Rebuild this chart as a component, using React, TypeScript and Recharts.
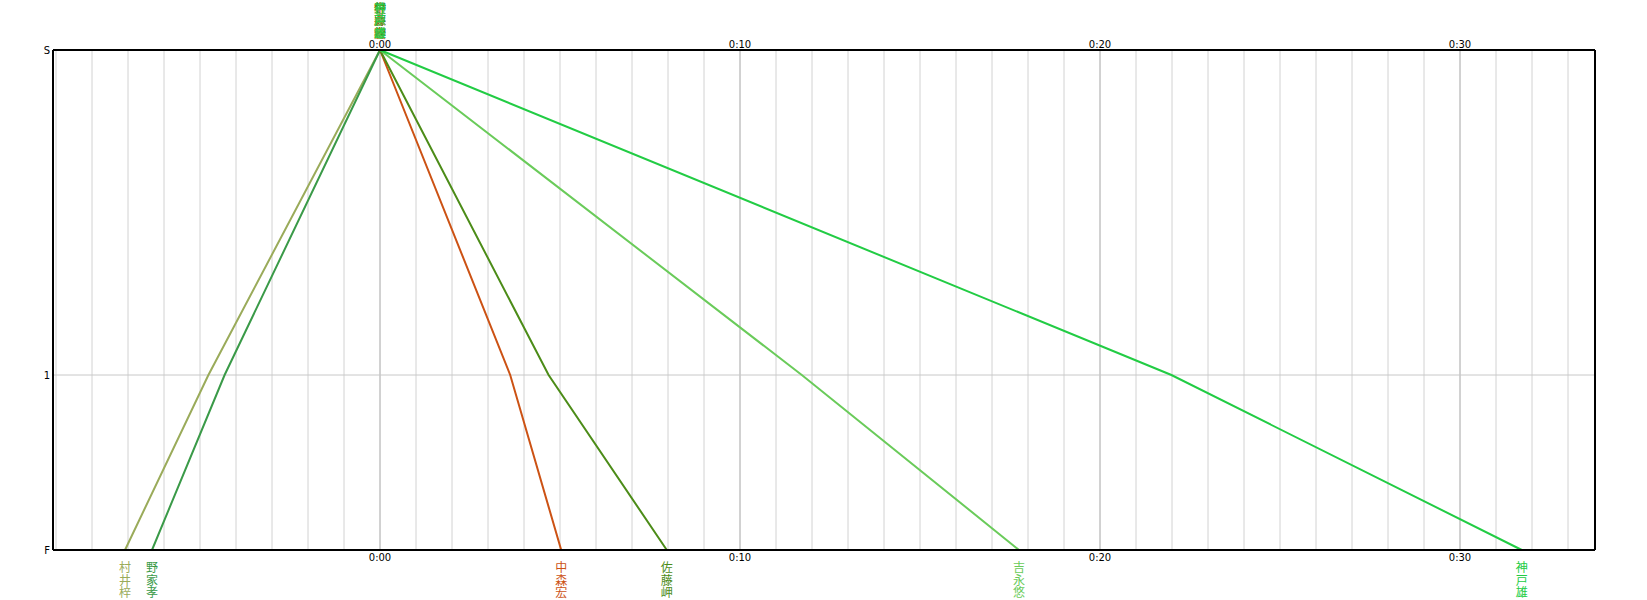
import React from 'react';
import { LineChart, Line, XAxis, YAxis, ReferenceLine } from 'recharts';

// runners in this section, colours as drawn
const runners = ['村井梓', '野家孝', '中森宏', '佐藤岬', '吉永悠', '神戸雄'];
const colors = ['#9aab5a', '#3a9a48', '#cc5214', '#4c8c18', '#6acb5a', '#22cc44'];

// times in seconds relative to 0:00 at S, split 1 and F
const startTimes = [0, 0, 0, 0, 0, 0];
const split1Times = [-286, -259, 217, 281, 703, 1319];
const finishTimes = [-425, -380, 302, 478, 1065, 1903];

// distance positions (S = 0, F = 1)
const distTicks = [0, 0.65, 1];
const distLabels = ['S', '1', 'F'];

const timeTicks = [0, 600, 1200, 1800];
const timeDomain = [-545, 2025];
const minuteLines = Array.from({ length: 43 }, (_, i) => (i - 9) * 60);

const fmtTime = (s: number) => {
  const m = Math.round(s / 60);
  return `${Math.floor(m / 60)}:${String(m % 60).padStart(2, '0')}`;
};
const fmtDist = (d: number) => distLabels[distTicks.indexOf(d)] ?? '';

const series = runners.map((name, i) => ({
  name,
  color: colors[i],
  data: [
    { t: startTimes[i], d: distTicks[0] },
    { t: split1Times[i], d: distTicks[1] },
    { t: finishTimes[i], d: distTicks[2] },
  ],
}));

const tickStyle = { fontSize: 10, fill: '#000', fontFamily: 'DejaVu Sans' };

// vertical runner name at start (top) and finish (bottom)
const makeLabel = (name: string, color: string, last: number) => (props: any) => {
  const { x, y, index } = props;
  if (index !== 0 && index !== last) return null;
  const top = index === 0 ? y - 48 : y + 11.5;
  return (
    <text
      x={x}
      y={top}
      fontSize={12}
      fontFamily="Noto Sans CJK JP"
      fill={color}
      letterSpacing={0.5}
      style={{ writingMode: 'vertical-rl' }}
    >
      {name}
    </text>
  );
};

export default function App() {
  return (
    <div style={{ width: 1647, height: 600 }}>
      <style>{'body{margin:0}'}</style>
      <LineChart width={1647} height={600} margin={{ top: 0, right: 0, bottom: 0, left: 0 }}>
        <XAxis
          xAxisId="bottom"
          dataKey="t"
          type="number"
          domain={timeDomain}
          allowDataOverflow
          ticks={timeTicks}
          tickFormatter={fmtTime}
          height={50}
          tickSize={0}
          tickMargin={4}
          tick={tickStyle}
          axisLine={{ stroke: '#000', strokeWidth: 2 }}
        />
        <XAxis
          xAxisId="top"
          orientation="top"
          dataKey="t"
          type="number"
          domain={timeDomain}
          allowDataOverflow
          ticks={timeTicks}
          tickFormatter={fmtTime}
          height={50}
          tickSize={0}
          tickMargin={2}
          tick={tickStyle}
          axisLine={{ stroke: '#000', strokeWidth: 2 }}
        />
        <YAxis
          yAxisId="left"
          dataKey="d"
          type="number"
          domain={[0, 1]}
          reversed
          ticks={distTicks}
          tickFormatter={fmtDist}
          width={53}
          tickSize={0}
          tickMargin={3}
          tick={tickStyle}
          axisLine={{ stroke: '#000', strokeWidth: 2 }}
        />
        <YAxis
          yAxisId="right"
          orientation="right"
          dataKey="d"
          type="number"
          domain={[0, 1]}
          reversed
          ticks={distTicks}
          tickFormatter={fmtDist}
          width={52}
          tickSize={0}
          tickMargin={3}
          tick={tickStyle}
          axisLine={{ stroke: '#000', strokeWidth: 2 }}
        />
        {minuteLines.map((t) => (
          <ReferenceLine
            key={t}
            x={t}
            xAxisId="bottom"
            yAxisId="left"
            stroke={t % 600 === 0 ? '#a4a4a4' : '#d2d2d2'}
            strokeWidth={1}
          />
        ))}
        <ReferenceLine y={distTicks[1]} xAxisId="bottom" yAxisId="left" stroke="#c8c8c8" strokeWidth={1} />
        {series.map((s) => (
          <Line
            key={s.name}
            xAxisId="bottom"
            yAxisId="left"
            data={s.data}
            dataKey="d"
            name={s.name}
            stroke={s.color}
            strokeWidth={2}
            dot={false}
            isAnimationActive={false}
            label={makeLabel(s.name, s.color, s.data.length - 1)}
          />
        ))}
      </LineChart>
    </div>
  );
}
